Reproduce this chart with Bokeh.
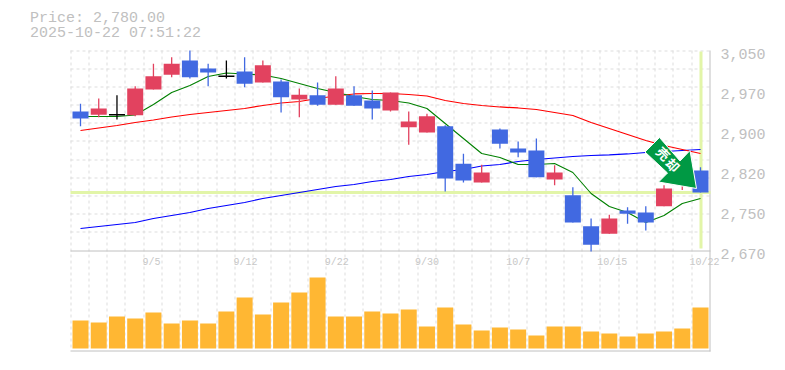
from bokeh.plotting import figure
from bokeh.embed import file_html
from bokeh.resources import INLINE
from bokeh.models import (ColumnDataSource, Range1d, LinearAxis, FixedTicker, Label)

opens = [2934,2928,2928,2927,2976,3004,3031,3016,3001,3010,2989,2991,2957,2965,2947,2965,2955,2936,2904,2894,2906,2835,2799,2900,2864,2860,2805,2775,2716,2702,2746,2742,2754,2797,2822]
closes = [2921,2940,2928,2978,3001,3025,2999,3008,3001,2987,3022,2961,2966,2947,2978,2945,2940,2970,2915,2925,2807,2803,2818,2873,2856,2809,2818,2723,2681,2731,2740,2723,2788,2826,2780]
highs = [2949,2959,2965,2982,3025,3037,3050,3025,3031,3037,3031,2995,2978,2989,3001,2982,2974,2970,2934,2930,2908,2854,2833,2902,2877,2883,2832,2790,2731,2738,2752,2754,2794,2837,2828]
lows = [2906,2923,2919,2925,2976,2999,2997,2982,2997,2980,2989,2932,2923,2945,2947,2945,2919,2934,2871,2894,2782,2799,2799,2864,2847,2809,2794,2723,2668,2702,2721,2708,2754,2785,2780]
ma_short = [2924.6,2924.6,2924.6,2927.4,2947.4,2970.2,2983.5,3000.6,3007.3,3005.4,3003.5,2996.8,2987.3,2977.8,2970.2,2962.6,2956.9,2955,2950.3,2939.8,2911.3,2882.8,2854.3,2846.7,2833.4,2833.4,2835.3,2818.2,2778.3,2753.6,2742.2,2723.2,2736.5,2759.3,2768.8]
ma_mid = [2898,2902.8,2907.5,2913.2,2918,2923.7,2928.4,2932.2,2936,2939.8,2945.5,2950.3,2953.1,2958.8,2963.6,2967.4,2968.3,2968.3,2966.4,2963.6,2955,2949.3,2945.5,2942.7,2940.8,2937.9,2932.2,2926.5,2913.2,2901.8,2890.4,2879,2869.5,2861.9,2854.3]
ma_long = [2711.8,2715.6,2719.4,2723.2,2730.8,2736.5,2742.2,2749.8,2755.5,2761.2,2768.8,2774.5,2780.2,2785.9,2791.6,2795.4,2801.1,2804.9,2810.6,2814.4,2820.1,2823.9,2830.6,2833.4,2839.1,2842.9,2845.8,2848.6,2850.5,2851.5,2853.4,2856.2,2858.1,2860,2861.9]
volumes = [2800,2600,3200,3000,3600,2500,2800,2500,3700,5100,3400,4600,5600,7100,3200,3200,3700,3500,3900,2200,4100,2400,1800,2100,1900,1300,2200,2200,1700,1500,1200,1500,1700,2000,4100]
price_ticks = [3050,2974,2898,2822,2746,2670]
price_labels = ["3,050","2,970","2,900","2,820","2,750","2,670"]
date_idx = [4,9,14,19,24,29,34]
date_labels = ["9/5","9/12","9/22","9/30","10/7","10/15","10/22"]
date_nudge = [-2,1,1,0,0,3,4]
current_price = 2780
signal_text = ["売","却"]

# pixel <-> data helpers (frame: x 20..720, y 5..352)
PX0, PXS = 80.0, 620.0/34
def dx(px): return (px-PX0)/PXS
def dy(py): return 3145-1.9*py

RED, BLUE, BLACK = "#e2425f", "#4169e1", "#000000"
GRID = "#dddddd"; AXC = "#c0c0c0"; TXT = "#c0c0c0"; YEL = "#e2f5a8"

n = len(opens)
xs = list(range(n))
L, R, T, B = 20, 720, 5, 352
p = figure(frame_width=R-L, frame_height=B-T, output_backend="svg", toolbar_location=None,
           x_axis_location=None, y_axis_location=None,
           x_range=Range1d(dx(L), dx(R)), y_range=Range1d(dy(B), dy(T)),
           min_border_left=L, min_border_top=T, min_border_right=57, min_border_bottom=5,
           outline_line_color=None, background_fill_color="white", border_fill_color="white")
p.grid.visible = False

p.extra_y_ranges = {"vol": Range1d((348-B)*100, (348-T)*100), "tick": Range1d(dy(B)+5.7, dy(T)+5.7)}

# grid, snapped to whole pixel rows and columns
gx = [dx(int(70+k*18.27)+0.5) for k in range(35)]
p.segment(x0=gx, x1=gx, y0=[dy(50)]*len(gx), y1=[dy(350)]*len(gx), line_color=GRID, line_dash="3 3", line_width=1)
gy = [dy(int(50+k*200/11)+0.5) for k in range(11)]
p.segment(x0=[dx(70)]*len(gy), x1=[dx(710)]*len(gy), y0=gy, y1=gy, line_color=GRID, line_dash="3 3", line_width=1)

ax = LinearAxis(y_range_name="tick", ticker=FixedTicker(ticks=price_ticks),
                major_label_overrides=dict(zip(price_ticks, price_labels)),
                axis_line_color=None, major_tick_line_color=None, minor_tick_line_color=None,
                major_tick_in=0, major_tick_out=0,
                major_label_standoff=0, major_label_text_color=TXT,
                major_label_text_font="Liberation Mono", major_label_text_font_size="15px")
p.add_layout(ax, "right")

# panel borders
p.segment(x0=[dx(70),dx(70),dx(709.5)], x1=[dx(710),dx(710),dx(709.5)],
          y0=[dy(250.5),dy(350.5),dy(50)], y1=[dy(250.5),dy(350.5),dy(351)], line_color=AXC, line_width=1)

# volume
p.vbar(x=xs, top=volumes, bottom=0, width=16/PXS, fill_color="#ffb733", line_color=None, y_range_name="vol")

# highlight lines
p.segment(x0=[dx(70)], x1=[dx(710)], y0=[current_price], y1=[current_price], line_color=YEL, line_width=3)
p.segment(x0=[n-1+0.5/PXS], x1=[n-1+0.5/PXS], y0=[dy(248)], y1=[dy(51)], line_color=YEL, line_width=3)

# moving averages
p.line(xs, ma_long, line_color="#0000ff", line_width=1.2)
p.line(xs, ma_mid, line_color="#ff0000", line_width=1.2)
p.line(xs, ma_short, line_color="#008000", line_width=1.1)

# candles
def col(o, c):
    return RED if c > o else BLUE if c < o else BLACK
colors = [col(o, c) for o, c in zip(opens, closes)]
src = ColumnDataSource(dict(x=xs, o=opens, c=closes, h=highs, l=lows, color=colors))
p.segment(x0="x", x1="x", y0="l", y1="h", line_color="color", line_width=1.3, source=src)
p.vbar(x="x", top="o", bottom="c", width=16/PXS, fill_color="color", line_color=None, source=src)
dj = [i for i in xs if opens[i] == closes[i]]
p.segment(x0=[i-8/PXS for i in dj], x1=[i+8/PXS for i in dj], y0=[opens[i] for i in dj], y1=[opens[i] for i in dj],
          line_color=BLACK, line_width=1.5)

# signal arrow (shape in pixels)
arrow_x = [696,658,667,644.5,659,679.5,689.5]
arrow_y = [188,181.5,172.5,151.5,137,160.5,150]
p.patch([dx(v) for v in arrow_x], [dy(v) for v in arrow_y], fill_color="#009944", line_color="white", line_width=1)
for t, px, py in zip(signal_text, [663,672.5], [153,164.5]):
    p.add_layout(Label(x=dx(px), y=dy(py), text=t, angle=-45, angle_units="deg", text_color="white",
                       text_font="Noto Sans CJK JP", text_font_size="13px", text_font_style="bold",
                       text_align="center", text_baseline="middle"))

# date labels
for i, t, d in zip(date_idx, date_labels, date_nudge):
    p.add_layout(Label(x=i, y=dy(262), x_offset=d, text=t, text_color="#c8c8c8", text_font="Liberation Mono",
                       text_font_size="10px", text_align="center", text_baseline="middle"))

# header
for t, py in zip(["Price: 2,780.00", "2025-10-22 07:51:22"], [18, 33]):
    p.add_layout(Label(x=dx(29.5), y=dy(py), text=t, text_color=TXT, text_font="Liberation Mono",
                       text_font_size="15px", text_align="left", text_baseline="middle"))

open("out.html", "w").write(file_html(p, INLINE))
